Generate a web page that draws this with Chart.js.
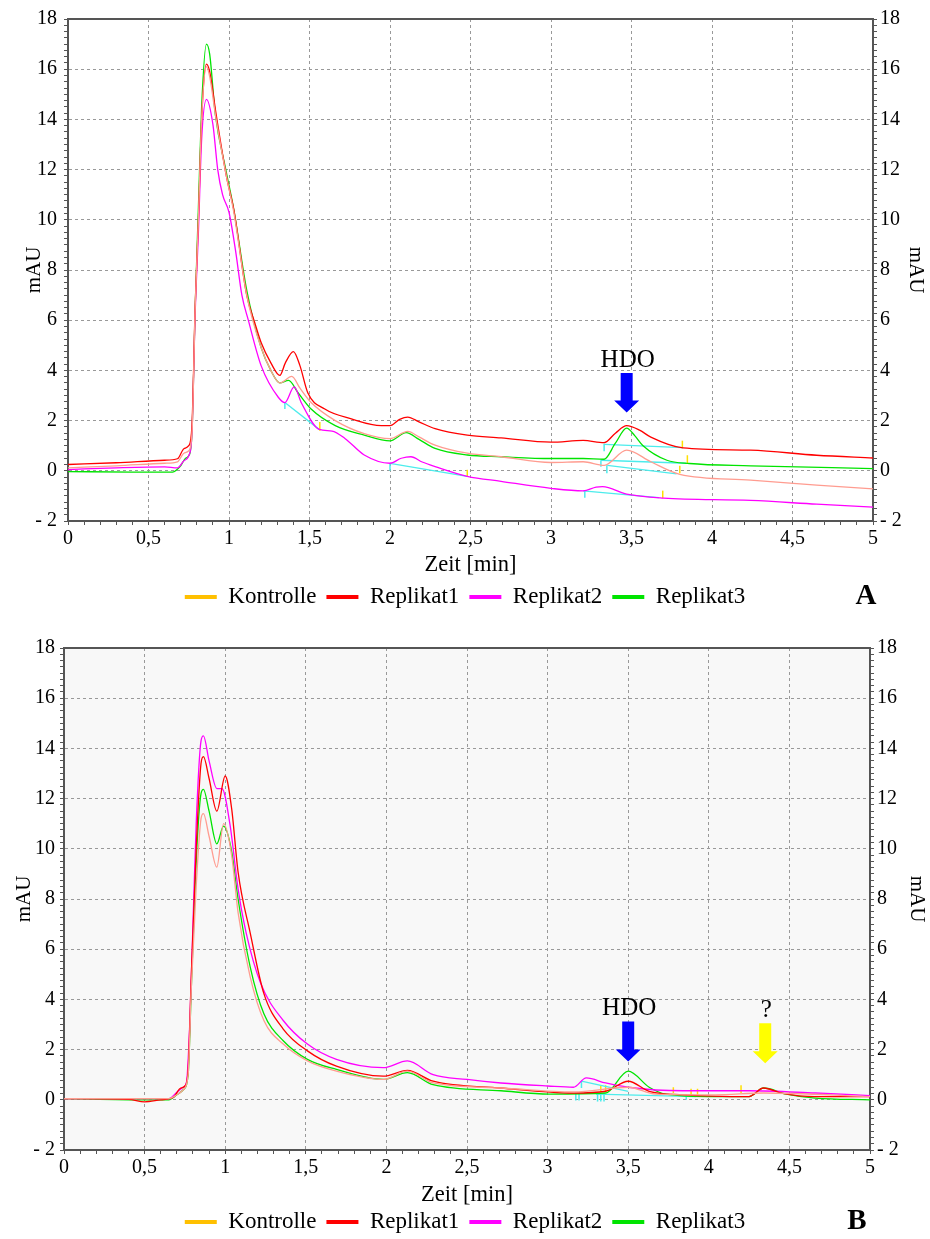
<!DOCTYPE html>
<html>
<head>
<meta charset="utf-8">
<script src="https://cdn.jsdelivr.net/npm/chart.js@4.4.1/dist/chart.umd.min.js"></script>
<style>
  body { margin: 0; background: #fff; }
  canvas { display: block; }
</style>
</head>
<body>
<canvas id="chartA" width="930" height="620"></canvas>
<canvas id="chartB" width="930" height="625"></canvas>
<script>
// Serien (Legende)
const seriesNames = ['Kontrolle', 'Replikat1', 'Replikat2', 'Replikat3'];

// Achsenbeschriftungen
const xTickLabels = ['0', '0,5', '1', '1,5', '2', '2,5', '3', '3,5', '4', '4,5', '5'];
const yTickLabels = ['- 2', '0', '2', '4', '6', '8', '10', '12', '14', '16', '18'];

// Chromatogramm A: [Zeit min, mAU]
const aKontrolle = [[0,0.12],[0.3,0.2],[0.6,0.3],[0.68,0.36],[0.72,0.7],[0.75,0.8],[0.77,1.5],[0.79,6.5],[0.81,10],[0.83,14],[0.86,16.1],[0.88,15.7],[0.92,14.0],[0.985,11.7],[1.03,10.3],[1.11,7.0],[1.2,4.9],[1.26,4.0],[1.316,3.5],[1.39,3.76],[1.44,3.3],[1.51,2.72],[1.66,2.0],[1.84,1.48],[2.0,1.28],[2.11,1.57],[2.18,1.35],[2.28,1.02],[2.48,0.7],[2.69,0.56],[3.0,0.33],[3.2,0.36],[3.33,0.22],[3.47,0.82],[3.62,0.36],[3.8,-0.14],[4.24,-0.37],[4.65,-0.57],[5,-0.72]];
const aReplikat1 = [[0,0.25],[0.3,0.32],[0.6,0.42],[0.68,0.48],[0.72,0.88],[0.75,1.0],[0.77,1.8],[0.79,6.6],[0.81,10],[0.83,14],[0.86,16.2],[0.88,15.9],[0.92,14.2],[0.985,11.7],[1.03,10.4],[1.11,7.0],[1.16,5.9],[1.2,5.1],[1.26,4.3],[1.316,3.8],[1.35,4.3],[1.4,4.75],[1.44,4.2],[1.49,3.1],[1.595,2.46],[1.76,2.07],[1.946,1.8],[2.0,1.8],[2.06,2.05],[2.11,2.14],[2.18,1.95],[2.28,1.68],[2.48,1.42],[2.69,1.31],[3.0,1.14],[3.2,1.21],[3.33,1.12],[3.4,1.5],[3.47,1.8],[3.55,1.62],[3.62,1.34],[3.82,0.91],[4.24,0.82],[4.65,0.62],[5,0.51]];
const aReplikat2 = [[0,0.05],[0.3,0.12],[0.6,0.16],[0.68,0.12],[0.72,0.4],[0.75,0.6],[0.77,1.5],[0.79,6.3],[0.81,9.5],[0.83,13.2],[0.86,14.8],[0.9,13.8],[0.93,12.0],[0.96,11.0],[1.0,10.3],[1.04,8.8],[1.08,7.0],[1.12,6.0],[1.2,4.18],[1.306,2.93],[1.347,2.72],[1.405,3.34],[1.45,2.7],[1.56,1.65],[1.64,1.58],[1.72,1.29],[1.84,0.63],[2.0,0.3],[2.07,0.5],[2.13,0.56],[2.2,0.35],[2.28,0.17],[2.48,-0.22],[2.69,-0.42],[3.0,-0.7],[3.2,-0.8],[3.28,-0.65],[3.32,-0.63],[3.47,-0.93],[3.7,-1.09],[4.24,-1.18],[4.65,-1.33],[5,-1.45]];
const aReplikat3 = [[0,-0.03],[0.4,-0.05],[0.65,-0.05],[0.7,0.2],[0.73,0.5],[0.75,0.6],[0.77,1.5],[0.79,6.5],[0.81,10.5],[0.83,14.5],[0.86,17.0],[0.88,16.6],[0.915,14.2],[0.98,12.0],[1.03,10.4],[1.11,7.2],[1.2,4.9],[1.26,4.0],[1.316,3.5],[1.37,3.6],[1.43,3.1],[1.51,2.46],[1.66,1.8],[1.84,1.42],[2.0,1.19],[2.1,1.52],[2.18,1.25],[2.28,0.89],[2.48,0.63],[2.69,0.56],[3.0,0.49],[3.2,0.49],[3.33,0.46],[3.4,1.1],[3.47,1.7],[3.52,1.4],[3.57,1.01],[3.72,0.42],[3.86,0.29],[4.24,0.2],[5,0.09]];
// Basislinien der Integration (cyan)
const aBaselines = [
  [[1.347,2.72],[1.56,1.65]],
  [[2.0,0.3],[2.48,-0.22]],
  [[3.33,1.05],[3.82,0.92]],
  [[3.31,0.42],[3.84,0.3]],
  [[3.35,0.22],[3.78,-0.12]],
  [[3.2,-0.8],[3.67,-1.07]]
];
// Peak-Start (cyan) und Peak-Ende (gelb): [Zeit, mAU unten, mAU oben]
const aStartMarks = [[1.347,2.46,2.72],[2.0,0.0,0.3],[3.33,0.78,1.08],[3.31,0.16,0.42],[3.347,-0.1,0.22],[3.21,-1.07,-0.76]];
const aEndMarks = [[1.564,1.6,1.94],[2.48,-0.22,0.04],[3.816,0.9,1.2],[3.847,0.29,0.62],[3.8,-0.1,0.2],[3.694,-1.09,-0.79]];
// Pfeile: [Text, Zeit, oberes Ende mAU, Spitze mAU]
const aMarkers = [['HDO', 3.47, 3.9, 2.32]];

// Chromatogramm B
const bKontrolle = [[0,0.05],[0.65,0.05],[0.7,0.2],[0.74,0.4],[0.77,1.0],[0.79,4.5],[0.82,8.5],[0.85,11.2],[0.865,11.4],[0.9,10.5],[0.948,9.27],[0.99,11.0],[1.04,9.74],[1.08,7.46],[1.155,4.9],[1.24,3.16],[1.36,2.22],[1.51,1.55],[1.69,1.14],[1.98,0.81],[2.13,1.14],[2.29,0.67],[2.71,0.47],[3.16,0.31],[3.5,0.5],[3.67,0.23],[4.04,0.2],[4.34,0.27],[5,0.13]];
const bReplikat1 = [[0,0.05],[0.4,0.02],[0.5,-0.08],[0.6,0.0],[0.68,0.1],[0.72,0.45],[0.75,0.55],[0.77,1.2],[0.79,5],[0.82,10],[0.85,13.4],[0.865,13.67],[0.9,12.8],[0.948,11.5],[1.0,12.9],[1.04,11.6],[1.08,9.07],[1.155,6.65],[1.24,4.23],[1.36,2.82],[1.51,1.95],[1.69,1.34],[1.98,0.94],[2.13,1.17],[2.29,0.74],[2.71,0.47],[3.16,0.27],[3.36,0.34],[3.5,0.74],[3.63,0.34],[3.84,0.2],[4.25,0.13],[4.34,0.47],[4.45,0.27],[4.66,0.13],[5,0.13]];
const bReplikat2 = [[0,0.05],[0.5,0.05],[0.65,0.05],[0.7,0.3],[0.74,0.5],[0.76,0.7],[0.78,3],[0.8,7],[0.82,11],[0.85,14.3],[0.865,14.5],[0.9,13.5],[0.948,12.4],[0.98,12.4],[1.03,10.95],[1.08,8.4],[1.13,6.65],[1.22,4.64],[1.36,3.16],[1.51,2.22],[1.69,1.61],[1.98,1.28],[2.13,1.55],[2.29,1.0],[2.5,0.81],[2.71,0.67],[3.0,0.55],[3.16,0.5],[3.24,0.87],[3.36,0.67],[3.5,0.5],[3.84,0.36],[4.25,0.36],[4.66,0.27],[5,0.17]];
const bReplikat3 = [[0,0.05],[0.5,0.0],[0.65,0.0],[0.7,0.2],[0.74,0.4],[0.77,1.0],[0.79,4.5],[0.82,9.5],[0.85,12.2],[0.865,12.37],[0.9,11.5],[0.948,10.2],[0.99,10.9],[1.04,9.9],[1.08,8.0],[1.155,5.3],[1.24,3.43],[1.36,2.35],[1.51,1.61],[1.69,1.21],[1.98,0.81],[2.13,1.08],[2.29,0.6],[2.71,0.36],[3.01,0.23],[3.36,0.27],[3.5,1.14],[3.63,0.5],[3.73,0.23],[4.04,0.13],[4.25,0.13],[4.34,0.47],[4.48,0.23],[4.66,0.07],[5,0.0]];
const bBaselines = [
  [[3.21,0.74],[3.5,0.34]],
  [[3.3,0.23],[3.92,0.13]]
];
const bStartMarks = [[3.175,-0.03,0.27],[3.195,-0.03,0.27],[3.21,0.47,0.74],[3.31,-0.07,0.27],[3.33,-0.07,0.27],[3.35,-0.07,0.27],[3.86,0.0,0.2]];
const bEndMarks = [[3.33,0.31,0.58],[3.36,0.31,0.58],[3.78,0.27,0.5],[3.89,0.2,0.44],[3.93,0.2,0.44],[4.2,0.27,0.58]];
const bMarkers = [['HDO', 3.5, 3.12, 1.53], ['?', 4.35, 3.05, 1.46]];

// Farben
const lineColors = ['#ff9c90', '#ff0000', '#ff00ff', '#00e400'];
const legendColors = ['#ffc000', '#ff0000', '#ff00ff', '#00e400'];
const baselineColor = '#4cecec';
const endMarkColor = '#ffe000';
const arrowColorsA = ['#0000ff'];
const arrowColorsB = ['#0000ff', '#ffff00'];

Chart.defaults.font.family = "'Liberation Serif', 'DejaVu Serif', serif";
Chart.defaults.color = '#000';

const isHalf = v => Math.abs(v * 2 - Math.round(v * 2)) < 1e-6;
const isEven = v => Math.abs(v / 2 - Math.round(v / 2)) < 1e-6;
const toXY = arr => arr.map(p => ({ x: p[0], y: p[1] }));

// Pfeile mit Beschriftung
const arrowPlugin = {
  id: 'arrows',
  afterDatasetsDraw(chart, args, opts) {
    const { ctx, scales: { x, y } } = chart;
    opts.markers.forEach((m, i) => {
      const px = x.getPixelForValue(m[1]);
      const top = y.getPixelForValue(m[2]);
      const tip = y.getPixelForValue(m[3]);
      ctx.save();
      ctx.fillStyle = opts.colors[i];
      ctx.beginPath();
      ctx.moveTo(px - 6, top);
      ctx.lineTo(px + 6, top);
      ctx.lineTo(px + 6, tip - 12);
      ctx.lineTo(px + 12.5, tip - 12);
      ctx.lineTo(px, tip);
      ctx.lineTo(px - 12.5, tip - 12);
      ctx.lineTo(px - 6, tip - 12);
      ctx.closePath();
      ctx.fill();
      ctx.fillStyle = '#000';
      ctx.font = "25px 'Liberation Serif', serif";
      ctx.textAlign = 'center';
      ctx.textBaseline = 'alphabetic';
      ctx.fillText(m[0], px + 1, top - 6);
      ctx.restore();
    });
  }
};

// Hintergrund, Rahmen, Buchstabe
const framePlugin = {
  id: 'frame',
  beforeDraw(chart, args, opts) {
    const { ctx, chartArea: a } = chart;
    if (opts.bg) {
      ctx.save();
      ctx.fillStyle = opts.bg;
      ctx.fillRect(a.left, a.top, a.right - a.left, a.bottom - a.top);
      ctx.restore();
    }
  },
  afterDraw(chart, args, opts) {
    const { ctx, chartArea: a } = chart;
    ctx.save();
    ctx.strokeStyle = '#555';
    ctx.lineWidth = 2;
    ctx.beginPath();
    ctx.moveTo(a.left, a.top);
    ctx.lineTo(a.right, a.top);
    ctx.stroke();
    ctx.fillStyle = '#000';
    ctx.font = "bold 29px 'Liberation Serif', serif";
    ctx.textAlign = 'center';
    ctx.textBaseline = 'middle';
    ctx.fillText(opts.letter, opts.lx, opts.ly);
    ctx.restore();
  }
};

function yAxis(pos, L) {
  const left = pos === 'left';
  return {
    position: pos,
    min: -2, max: 18,
    afterFit: s => { s.width = left ? L.leftW : L.rightW; },
    ticks: {
      stepSize: 0.25, autoSkip: false, padding: left ? L.yPadL : 3,
      font: { size: 20 },
      callback: v => isEven(v) ? yTickLabels[Math.round((v + 2) / 2)] : ''
    },
    grid: {
      drawOnChartArea: left,
      color: c => (c.tick && isEven(c.tick.value)) ? '#999' : 'rgba(0,0,0,0)',
      tickColor: '#555', tickLength: 4, tickBorderDash: [], tickWidth: 1
    },
    border: { color: '#555', width: 2, dash: [3, 3] },
    title: {
      display: true, text: 'mAU', font: { size: 21 },
      padding: { top: left ? L.titleL : L.titleR, bottom: 0 }
    }
  };
}

function lineSet(points, color, width) {
  return {
    label: '',
    data: toXY(points),
    borderColor: color,
    borderWidth: width,
    pointRadius: 0,
    yAxisID: 'y'
  };
}

function makeChart(id, series, baselines, startMarks, endMarks, markers, arrowColors, L) {
  const datasets = series.map((s, i) => ({
    label: seriesNames[i],
    data: toXY(s),
    borderColor: lineColors[i],
    borderWidth: 1.3,
    pointRadius: 0,
    cubicInterpolationMode: 'monotone',
    yAxisID: 'y'
  }));
  baselines.forEach(b => datasets.push(lineSet(b, baselineColor, 1.3)));
  startMarks.forEach(m => datasets.push(lineSet([[m[0], m[1]], [m[0], m[2]]], baselineColor, 1.5)));
  endMarks.forEach(m => datasets.push(lineSet([[m[0], m[1]], [m[0], m[2]]], endMarkColor, 1.5)));

  return new Chart(document.getElementById(id), {
    type: 'line',
    data: { datasets },
    options: {
      responsive: false,
      animation: false,
      layout: { padding: { top: L.top, bottom: L.bottom, left: 0, right: 0 } },
      scales: {
        x: {
          type: 'linear', min: 0, max: 5,
          afterFit: s => { s.height = L.xH; },
          ticks: {
            stepSize: 0.1, autoSkip: false, maxRotation: 0, padding: 2,
            font: { size: 20 },
            callback: v => isHalf(v) ? xTickLabels[Math.round(v * 2)] : ''
          },
          grid: {
            color: c => (c.tick && isHalf(c.tick.value)) ? '#999' : 'rgba(0,0,0,0)',
            tickColor: '#555', tickLength: 4, tickBorderDash: [], tickWidth: 1
          },
          border: { color: '#555', width: 2, dash: [3, 3] },
          title: {
            display: true, text: 'Zeit [min]', font: { size: 22.5 },
            padding: { top: 0, bottom: L.xTitlePad }
          }
        },
        y: yAxis('left', L),
        y2: yAxis('right', L)
      },
      plugins: {
        legend: {
          position: 'bottom',
          labels: {
            boxWidth: 32, boxHeight: 4, padding: 10,
            font: { size: 23 },
            generateLabels: () => seriesNames.map((n, i) => ({
              text: n, fillStyle: legendColors[i], strokeStyle: legendColors[i],
              lineWidth: 0, hidden: false, datasetIndex: i
            }))
          }
        },
        tooltip: { enabled: false },
        arrows: { markers, colors: arrowColors },
        frame: { letter: L.letter, lx: L.lx, ly: L.ly, bg: L.bg }
      }
    },
    plugins: [arrowPlugin, framePlugin]
  });
}

makeChart('chartA', [aKontrolle, aReplikat1, aReplikat2, aReplikat3], aBaselines, aStartMarks, aEndMarks, aMarkers, arrowColorsA, {
  top: 15, bottom: 1.5, xH: 54.5, xTitlePad: -3, leftW: 68, rightW: 57,
  yPadL: 7, titleL: 22, titleR: 1.5, letter: 'A', lx: 866, ly: 597, bg: null
});

makeChart('chartB', [bKontrolle, bReplikat1, bReplikat2, bReplikat3], bBaselines, bStartMarks, bEndMarks, bMarkers, arrowColorsB, {
  top: 28, bottom: 1.5, xH: 50.5, xTitlePad: -8, leftW: 64, rightW: 60,
  yPadL: 5, titleL: 12, titleR: 0.5, letter: 'B', lx: 857, ly: 602, bg: '#f8f8f8'
});
</script>
</body>
</html>
